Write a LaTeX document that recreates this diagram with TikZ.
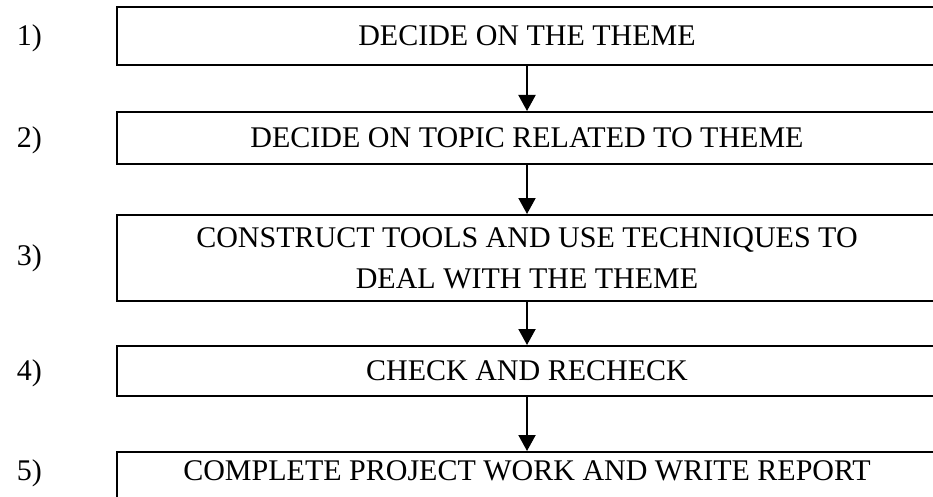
\documentclass[tikz,border=0pt]{standalone}
\usepackage{fontspec}
\setmainfont{Liberation Serif}
\usepackage{tikz}
\usetikzlibrary{arrows.meta, positioning}
\tikzset{
    flow/.style={font=\fontsize{30pt}{41pt}\selectfont},
    flow box/.style={draw, line width=2pt, align=center,
        minimum width=820pt},
    flow arrow/.style={-{Triangle[width=17pt, length=16pt]}, line width=2pt},
    flow number/.style={inner sep=0pt},
}

\begin{document}
\begin{tikzpicture}[flow]
  \useasboundingbox (0,0) rectangle (933pt,-497pt);
  \node[flow box, minimum height=58pt, anchor=north west] (theme) at (116pt,-6pt) {DECIDE ON THE THEME};
  \node[flow box, minimum height=52pt, below=45pt of theme] (topic) {DECIDE ON TOPIC RELATED TO THEME};
  \node[flow box, minimum height=86pt, below=49pt of topic] (tools) {CONSTRUCT TOOLS AND USE TECHNIQUES TO\\ DEAL WITH THE THEME};
  \node[flow box, minimum height=50pt, below=43pt of tools] (check) {CHECK AND RECHECK};
  \node[flow box, inner ysep=0pt, text height=28pt, text depth=40pt, below=54pt of check] (report) {COMPLETE PROJECT WORK AND WRITE REPORT};
  % step numbers
  \node[flow number, left=74pt of theme.mid west, anchor=mid east] (num1) {1)};
  \node[flow number, left=74pt of topic.mid west, anchor=mid east] (num2) {2)};
  \node[flow number, left=74pt of tools] (num3) {3)};
  \node[flow number, left=74pt of check.mid west, anchor=mid east] (num4) {4)};
  \node[flow number, left=74pt of report.mid west, anchor=mid east] (num5) {5)};
  \draw[flow arrow] (theme.south) -- (topic.north);
  \draw[flow arrow] (topic.south) -- (tools.north);
  \draw[flow arrow] (tools.south) -- (check.north);
  \draw[flow arrow] (check.south) -- (report.north);
\end{tikzpicture}
\end{document}
